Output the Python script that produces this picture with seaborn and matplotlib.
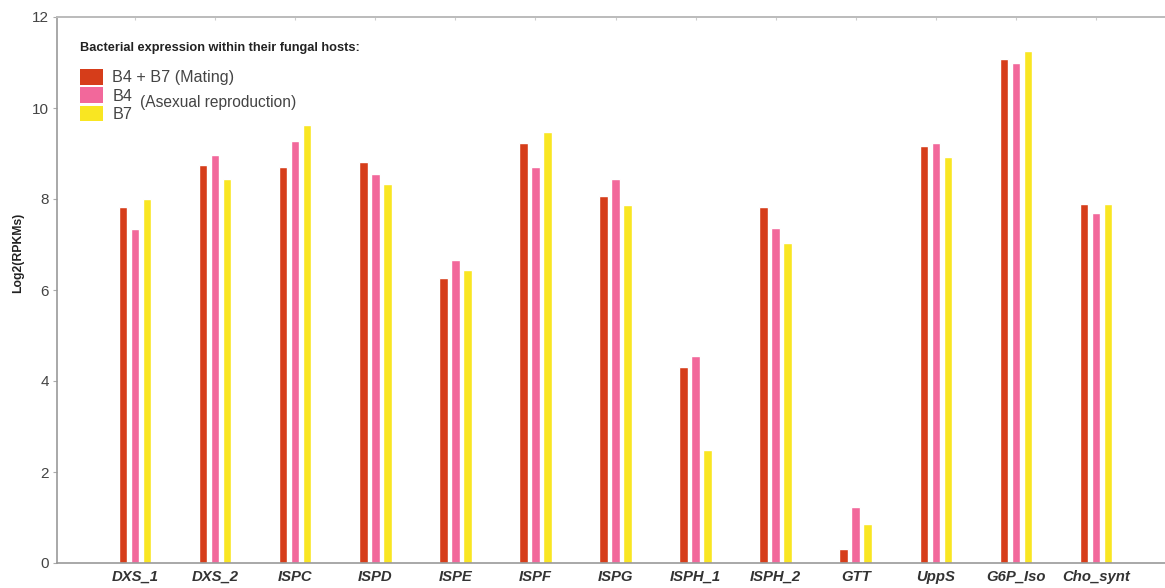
import matplotlib
matplotlib.use("Agg")
import matplotlib.pyplot as plt
import seaborn as sns
import pandas as pd
from matplotlib.patches import Patch

genes = ["DXS_1", "DXS_2", "ISPC", "ISPD", "ISPE", "ISPF", "ISPG",
         "ISPH_1", "ISPH_2", "GTT", "UppS", "G6P_Iso", "Cho_synt"]
mating = [7.83, 8.75, 8.71, 8.82, 6.27, 9.23, 8.07, 4.30, 7.83, 0.30, 9.16, 11.08, 7.88]
b4 = [7.34, 8.97, 9.27, 8.54, 6.67, 8.71, 8.45, 4.56, 7.37, 1.24, 9.23, 10.98, 7.70]
b7 = [8.01, 8.43, 9.63, 8.34, 6.45, 9.47, 7.87, 2.48, 7.04, 0.86, 8.93, 11.26, 7.89]
series = ["B4 + B7 (Mating)", "B4", "B7"]
colors = ["#D63D1A", "#F2689B", "#F9E622"]

df = pd.DataFrame({
    "gene": genes * 3,
    "group": [series[0]] * len(genes) + [series[1]] * len(genes) + [series[2]] * len(genes),
    "value": mating + b4 + b7,
})

sns.set_theme(style="ticks")
plt.rcParams["font.family"] = ["Liberation Sans", "DejaVu Sans"]

W, H = 1165, 588
fig = plt.figure(figsize=(W / 100, H / 100), dpi=100)
ax_w = 1166 - 57
ax_h = 563 - 17
ax = fig.add_axes([57 / W, (H - 563) / H, ax_w / W, ax_h / H])

sns.barplot(data=df, x="gene", y="value", hue="group", hue_order=series,
            palette=colors, width=0.45, gap=0.29, saturation=1,
            errorbar=None, ax=ax, legend=False)

ax.set_ylim(0, 12)
ax.set_xlim(-0.975, 12.875)
ax.set_yticks([0, 2, 4, 6, 8, 10, 12])
ax.set_xlabel("")
ax.set_ylabel("Log2(RPKMs)", fontsize=8.8, fontweight="bold", color="#222222")
ax.yaxis.set_label_coords(-33 / ax_w, (563 - 253) / ax_h)
ax.tick_params(axis="y", labelsize=11, colors="#aaaaaa", labelcolor="#444444",
               length=3, width=0.8, pad=3)
ax.tick_params(axis="x", bottom=False, top=True, direction="in", length=2,
               width=0.8, colors="#cccccc", pad=5)
for lab in ax.get_xticklabels():
    lab.set_fontweight("bold")
    lab.set_fontstyle("italic")
    lab.set_fontsize(10.7)
    lab.set_color("#333333")

ax.spines["right"].set_visible(False)
ax.spines["top"].set_color("#bbbbbb")
ax.spines["top"].set_linewidth(1.4)
for side in ["left", "bottom"]:
    ax.spines[side].set_color("#999999")
    ax.spines[side].set_linewidth(1.2)

handles = [Patch(facecolor=c, edgecolor="none") for c in colors]
leg = ax.legend(handles, series, title="Bacterial expression within their fungal hosts:",
                loc="upper left", bbox_to_anchor=(23 / ax_w, (563 - 42) / ax_h),
                frameon=False, fontsize=11.6, title_fontsize=9.2, handlelength=1.45,
                handleheight=1.1, handletextpad=0.55, labelspacing=0.12, borderaxespad=0,
                borderpad=0)
leg.get_title().set_fontweight("bold")
leg.get_title().set_color("#222222")
leg._legend_box.align = "left"
leg._legend_box.sep = 11
for t in leg.get_texts():
    t.set_color("#444444")

fig.text(140 / W, 1 - 102 / H, "(Asexual reproduction)", fontsize=11.2,
         color="#444444", va="center", ha="left")

fig.savefig("out.png", dpi=100)
